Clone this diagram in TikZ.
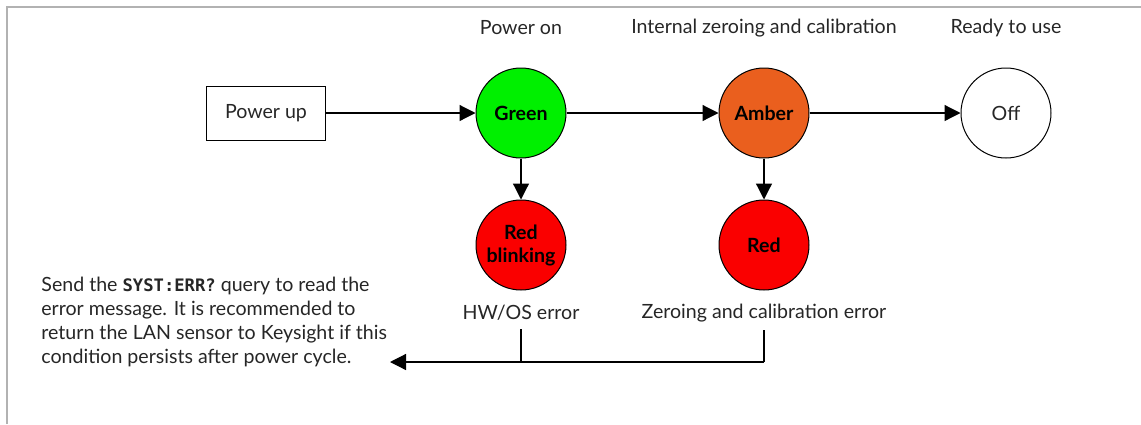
\documentclass[tikz,border=0pt]{standalone}
\usepackage{fontspec}
\setmainfont{Lato}
\setmonofont{DejaVu Sans Mono}
\usepackage{xcolor}
\usetikzlibrary{arrows.meta,positioning,calc}

\definecolor{ledgreen}{HTML}{00F000}
\definecolor{ledamber}{HTML}{EA5F1E}
\definecolor{ledred}{HTML}{FA0000}

\begin{document}
\begin{tikzpicture}[
  x=0.5pt,y=-0.5pt,
  font=\fontsize{9.8}{12}\selectfont,
  led/.style={draw,circle,minimum size=45pt,inner sep=0pt,align=center,font=\fontsize{9.8}{11.5}\selectfont\bfseries,line width=0.5pt},
  stage/.style={text=black!85,inner sep=0pt},
  arrow/.style={-{Triangle[length=8pt,width=8pt]},line width=0.6pt},
  plain/.style={line width=0.6pt}
]
\useasboundingbox (0,0) rectangle (1141,424);
\draw[black!30,line width=1.2pt] (7,424) -- (7,7) -- (1141,7);

\node[draw,line width=0.5pt,minimum width=59.5pt,minimum height=27pt,text=black!85] (powerup) at (266,113) {Power up};
\node[led,fill=ledgreen] (green) at (521,113) {Green};
\node[led,fill=ledamber] (amber) at (764,113) {Amber};
\node[led,fill=white,font=\fontsize{9.8}{11}\selectfont,text=black!85] (off) at (1006,113) {Off};
\node[led,fill=ledred] (redblink) at (521,245) {Red\\blinking};
\node[led,fill=ledred] (red) at (764,245) {Red};

% stage captions
\node[stage] (poweron) at (521,28) {Power on};
\node[stage] (zeroing) at (764,28) {Internal zeroing and calibration};
\node[stage] (ready) at (1006,28) {Ready to use};
\node[stage] (hwerr) at (521,313) {HW/OS error};
\node[stage] (calerr) at (764,313) {Zeroing and calibration error};

\node[stage,anchor=west,align=left] (advice) at (41,322)
  {Send the {\ttfamily\bfseries\fontsize{8.6}{12}\selectfont SYST:ERR?} query to read the\\
   error message. It is recommended to\\
   return the LAN sensor to Keysight if this\\
   condition persists after power cycle.};

\coordinate (joinhw) at (521,362);
\coordinate (joincal) at (764,362);
\coordinate (sink) at (390,362);

\draw[arrow] (powerup) -- (green);
\draw[arrow] (green) -- (amber);
\draw[arrow] (amber) -- (off);
\draw[arrow] (green) -- (redblink);
\draw[arrow] (amber) -- (red);
\draw[plain] ($(hwerr.south)+(0,8)$) -- (joinhw);
\draw[plain] ($(calerr.south)+(0,8)$) -- (joincal);
\draw[arrow] (joincal) -- (sink);
\end{tikzpicture}
\end{document}
